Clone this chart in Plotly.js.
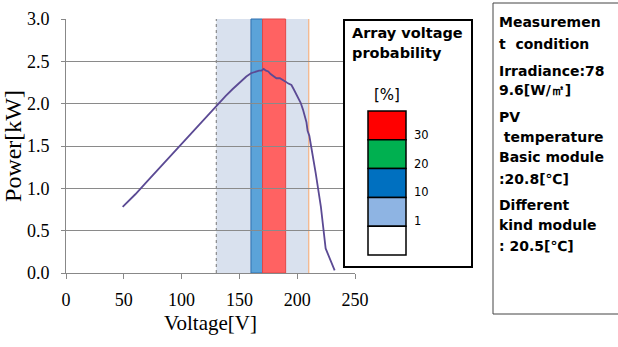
<!DOCTYPE html>
<html><head><meta charset="utf-8">
<script src="https://cdn.plot.ly/plotly-3.0.1.min.js"></script>
<style>body{margin:0;padding:0;background:#fff}#c{width:618px;height:347px}</style>
</head><body><div id="c"></div>
<script>
// Measured P-V curve
const voltage = [49, 60, 70, 80, 90, 100, 110, 120, 130, 138, 144, 150, 156, 160, 164, 167, 169, 171, 173, 175, 177, 179, 182, 185, 188, 190, 192, 194, 195, 197, 199, 201, 203, 205, 206, 208, 209, 210.5, 212, 214, 216, 220.5, 224.6, 232.4];
const power   = [0.78, 0.93, 1.08, 1.23, 1.38, 1.53, 1.68, 1.83, 1.98, 2.09, 2.17, 2.25, 2.32, 2.36, 2.38, 2.39, 2.39, 2.41, 2.39, 2.38, 2.35, 2.33, 2.30, 2.30, 2.28, 2.26, 2.24, 2.22, 2.22, 2.17, 2.12, 2.07, 2.01, 1.93, 1.88, 1.78, 1.68, 1.62, 1.50, 1.36, 1.18, 0.78, 0.29, 0.03];

// Array voltage probability bands
const bandStart = [130, 190, 160, 170];
const bandEnd   = [160, 210, 170, 190];
const bandColor = ['#D9E1EE', '#D9E1EE', '#5BA3D9', '#FF6262'];
const bandLine  = ['rgba(0,0,0,0)', 'rgba(0,0,0,0)', '#2E6FAE', '#E04848'];

// Colour scale legend
const legendTitle = ['Array voltage', 'probability'];
const legendUnit = '[%]';
const scaleColors = ['#FF0000', '#00B050', '#0070C0', '#8EB4E3', '#FFFFFF'];
const scaleLabels = ['30', '20', '10', '1'];

// Measurement condition text
const conditionLines = ['Measuremen', 't  condition', 'Irradiance:78', '9.6[W/㎡]', 'PV', ' temperature', 'Basic module', ':20.8[℃]', 'Different', 'kind module', ': 20.5[℃]'];
const conditionY = [22, 44, 71, 90, 117, 137, 157, 179, 205, 225, 246];

const W = 618, H = 347, ML = 66, MR = 263, MT = 19, MB = 74;
const PW = W - ML - MR, PH = H - MT - MB;
const px = x => (x - ML) / PW;
const py = y => (H - MB - y) / PH;

const shapes = [];
const annotations = [];
for (let i = 0; i < bandStart.length; i++) {
  shapes.push({type: 'rect', xref: 'x', yref: 'paper', x0: bandStart[i], x1: bandEnd[i], y0: 0, y1: 1,
    fillcolor: bandColor[i], line: {color: bandLine[i], width: 1}, layer: 'below'});
}
shapes.push({type: 'line', xref: 'x', yref: 'paper', x0: bandStart[0], x1: bandStart[0], y0: 0, y1: 1,
  line: {color: '#777', width: 1, dash: 'dot'}, layer: 'below'});
shapes.push({type: 'line', xref: 'x', yref: 'paper', x0: bandEnd[1], x1: bandEnd[1], y0: 0, y1: 1,
  line: {color: '#F4B183', width: 1.2}, layer: 'below'});

// legend box
shapes.push({type: 'rect', xref: 'paper', yref: 'paper', x0: px(344), x1: px(472), y0: py(267), y1: py(20),
  fillcolor: '#fff', line: {color: '#000', width: 2}, layer: 'above'});
const boxTop = 111, boxH = 28.8;
for (let i = 0; i < scaleColors.length; i++) {
  shapes.push({type: 'rect', xref: 'paper', yref: 'paper', x0: px(368), x1: px(406),
    y0: py(boxTop + (i + 1) * boxH), y1: py(boxTop + i * boxH),
    fillcolor: scaleColors[i], line: {color: '#000', width: 1.5}, layer: 'above'});
}
for (let i = 0; i < scaleLabels.length; i++) {
  annotations.push({xref: 'paper', yref: 'paper', x: px(412), y: py(boxTop + (i + 1) * boxH - 5),
    text: scaleLabels[i], showarrow: false, xanchor: 'left', yanchor: 'middle',
    font: {family: 'DejaVu Sans', size: 11.5, color: '#000'}});
}
legendTitle.forEach((t, i) => annotations.push({xref: 'paper', yref: 'paper', x: px(350), y: py(33 + i * 20),
  text: '<b>' + t + '</b>', showarrow: false, xanchor: 'left', yanchor: 'middle',
  font: {family: 'DejaVu Sans', size: 14.5, color: '#000'}}));
annotations.push({xref: 'paper', yref: 'paper', x: px(387), y: py(95), text: legendUnit, showarrow: false,
  xanchor: 'center', yanchor: 'middle', font: {family: 'DejaVu Sans', size: 15, color: '#000'}});

// condition box
shapes.push({type: 'rect', xref: 'paper', yref: 'paper', x0: px(493), x1: px(625), y0: py(314), y1: py(3),
  fillcolor: 'rgba(0,0,0,0)', line: {color: '#444', width: 1}, layer: 'above'});
conditionLines.forEach((t, i) => annotations.push({xref: 'paper', yref: 'paper', x: px(497), y: py(conditionY[i]),
  text: '<b>' + t + '</b>', showarrow: false, xanchor: 'left', yanchor: 'middle',
  font: {family: 'DejaVu Sans', size: 14, color: '#000'}}));

const trace = {x: voltage, y: power, type: 'scatter', mode: 'lines',
  line: {color: '#5B4A94', width: 1.8}, hoverinfo: 'skip'};

const layout = {
  width: W, height: H, margin: {l: ML, r: MR, t: MT, b: MB},
  paper_bgcolor: '#fff', plot_bgcolor: '#fff', showlegend: false,
  font: {family: 'Liberation Serif', color: '#000'},
  xaxis: {range: [0, 250], dtick: 50, tick0: 0, showgrid: false, zeroline: false,
    showline: true, linecolor: '#888', linewidth: 1, ticks: 'outside', ticklen: 5, tickcolor: '#888',
    tickfont: {family: 'Liberation Serif', size: 18}, fixedrange: true, ticklabelstandoff: 5,
    title: {text: 'Voltage[V]', font: {family: 'Liberation Serif', size: 21}, standoff: 6}},
  yaxis: {range: [0, 3], dtick: 0.5, tickformat: '.1f', showgrid: true, gridcolor: '#8a8a8a', gridwidth: 1,
    zeroline: false, showline: true, linecolor: '#888', linewidth: 1, ticks: 'outside', ticklen: 4, tickcolor: '#888',
    tickfont: {family: 'Liberation Serif', size: 18}, fixedrange: true, ticklabelstandoff: 8,
    title: {text: 'Power[kW]', font: {family: 'Liberation Serif', size: 24}, standoff: 4}},
  shapes: shapes, annotations: annotations
};
Plotly.newPlot('c', [trace], layout, {displayModeBar: false, staticPlot: true});
</script></body></html>
